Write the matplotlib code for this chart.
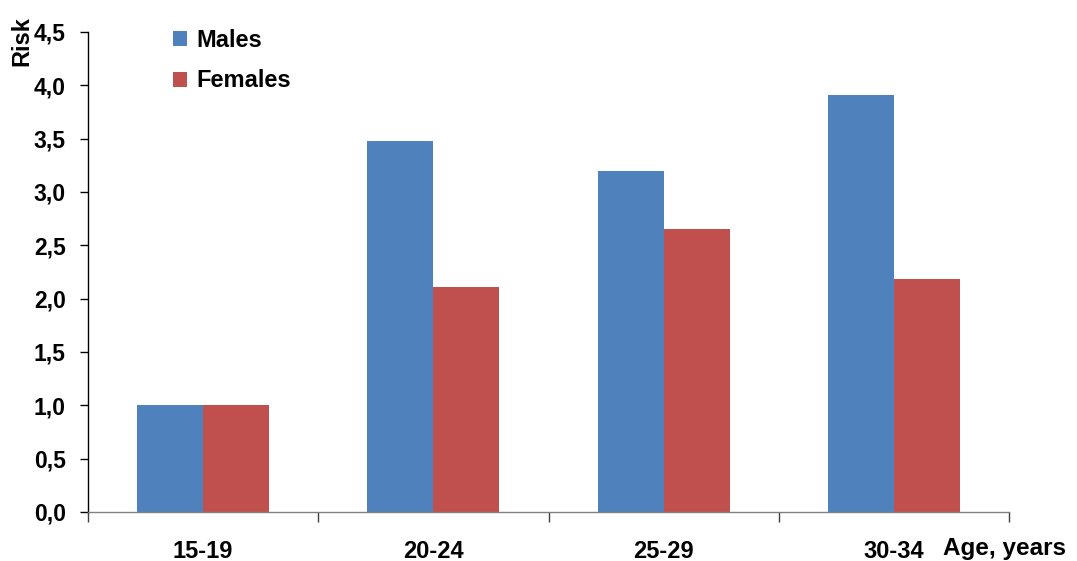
import matplotlib
matplotlib.use("Agg")
import matplotlib.pyplot as plt
import numpy as np
from matplotlib.ticker import FixedLocator

categories = ["15-19", "20-24", "25-29", "30-34"]
males = [1.0, 3.48, 3.20, 3.91]
females = [1.0, 2.11, 2.65, 2.18]
yticks = [0.0, 0.5, 1.0, 1.5, 2.0, 2.5, 3.0, 3.5, 4.0, 4.5]
ytick_labels = ["0,0", "0,5", "1,0", "1,5", "2,0", "2,5", "3,0", "3,5", "4,0", "4,5"]

plt.rcParams['font.family'] = ['Liberation Sans', 'DejaVu Sans']
plt.rcParams['font.weight'] = 'bold'

fig = plt.figure(figsize=(10.77, 5.61), dpi=100)
ax = fig.add_axes([88/1077, 1-512/561, (1009-88)/1077, (512-32)/561])

x = np.arange(len(categories))
w = 0.287
ax.bar(x - w/2, males, width=w, color="#4F81BD", label="Males")
ax.bar(x + w/2, females, width=w, color="#C0504D", label="Females")

ax.set_xlim(-0.5, len(categories) - 0.5)
ax.set_ylim(0, 4.5)
ax.set_yticks(yticks)
ax.set_yticklabels(ytick_labels, fontsize=16.5, fontweight='bold')
ax.set_xticks(x)
ax.set_xticklabels(categories, fontsize=17, fontweight='bold')
ax.tick_params(axis='x', which='major', length=0, pad=20)
ax.xaxis.set_minor_locator(FixedLocator(np.arange(-0.5, len(categories), 1.0)))
ax.tick_params(axis='x', which='minor', length=7, width=1, color='#404040', direction='out')
ax.tick_params(axis='y', length=6, width=1, pad=10, direction='out', color='black')

for s in ['top', 'right']:
    ax.spines[s].set_visible(False)
ax.spines['left'].set_color('black')
ax.spines['left'].set_linewidth(1)
ax.spines['bottom'].set_color('#808080')
ax.spines['bottom'].set_linewidth(1)

leg = ax.legend(loc='upper left', bbox_to_anchor=(173/1077, 1-29/561),
                bbox_transform=fig.transFigure, frameon=False, borderpad=0,
                borderaxespad=0, prop={'size': 17, 'weight': 'bold'},
                handlelength=0.59, handleheight=0.59, handletextpad=0.38,
                labelspacing=0.74)

fig.text(22/1077, 1-41/561, "Risk", rotation=90, ha='center', va='center',
         fontsize=17, fontweight='bold')
fig.text(943/1077, 1-549/561, "Age, years", ha='left', va='center',
         fontsize=17.5, fontweight='bold')

fig.savefig("out.png", dpi=100, facecolor='white')
